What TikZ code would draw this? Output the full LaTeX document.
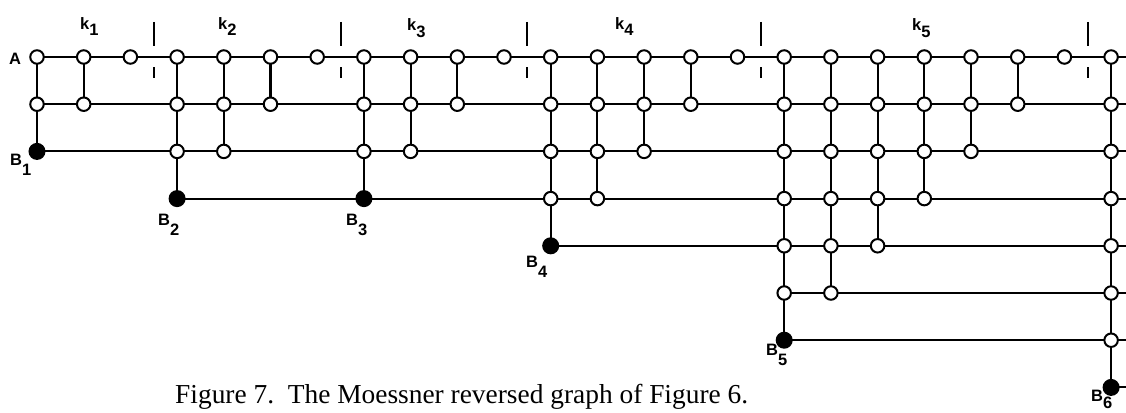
\documentclass[tikz,border=0pt]{standalone}
\usepackage{fontspec}
\setmainfont{Liberation Serif}
\newfontfamily\labfont{Liberation Sans}
\pgfdeclarelayer{bg}
\pgfsetlayers{bg,main}
\newcommand\lowered[2]{\raisebox{-#1pt}{#2}}
\tikzset{
  opennode/.style={circle, draw, fill=white, line width=2pt, minimum size=13.5pt, inner sep=0pt},
  bnode/.style={circle, draw, fill=black, line width=2pt, minimum size=15pt, inner sep=0pt},
  wire/.style={line width=2.1pt},
  lab/.style={font=\labfont\bfseries\fontsize{16.5}{16.5}\selectfont, inner sep=0pt, anchor=base west},
  captext/.style={font=\fontsize{27.4}{27.4}\selectfont, inner sep=0pt, anchor=base west},
}
\begin{document}
\begin{tikzpicture}[x=1pt,y=-1pt]
\useasboundingbox (0,0) rectangle (1126,412);
% nodes: column / last open row / has filled node below
\foreach \c/\m/\f in {0/1/1,1/1/0,2/0/0,3/2/1,4/2/0,5/1/0,6/0/0,7/2/1,8/2/0,9/1/0,10/0/0,
  11/3/1,12/3/0,13/2/0,14/1/0,15/0/0,16/5/1,17/5/0,18/4/0,19/3/0,20/2/0,21/1/0,22/0/0,23/6/1}{
  \pgfmathsetmacro\xx{37+46.7*\c}
  \foreach \r in {0,...,\m}{
    \pgfmathsetmacro\yy{57+47.2*\r}
    \node[opennode] (n\c-\r) at (\xx,\yy) {};
  }
  \ifnum\f=1
    \pgfmathtruncatemacro\b{\m+1}
    \pgfmathsetmacro\yy{57+47.2*\b}
    \node[bnode] (n\c-\b) at (\xx,\yy) {};
  \fi
}
% edge coordinates on the right
\foreach \r in {0,...,7}{
  \pgfmathsetmacro\yy{57+47.2*\r}
  \coordinate (e\r) at (1140,\yy);
}
\begin{pgfonlayer}{bg}
  % vertical connectors
  \foreach \c/\b in {0/2,1/1,3/3,4/2,5/1,7/3,8/2,9/1,11/4,12/3,13/2,14/1,16/6,17/5,18/4,19/3,20/2,21/1,23/7}{
    \draw[wire] (n\c-0.center) -- (n\c-\b.center);
  }
  % horizontal connectors
  \foreach \r/\s in {0/0,1/0,2/0,3/3,4/11,5/16,6/16,7/23}{
    \draw[wire] (n\s-\r.center) -- (e\r);
  }
\end{pgfonlayer}
% section ticks
\foreach \t in {2.5,6.5,10.5,15.5,22.5}{
  \draw[wire] ({37+46.7*\t},22) -- ({37+46.7*\t},46);
  \draw[wire] ({37+46.7*\t},67) -- ({37+46.7*\t},78);
}
% labels
\node[lab] (kA) at (9,64) {A};
\node[lab] (k1) at (80,30) {k\lowered{6}{1}};
\node[lab] (k2) at (218,30) {k\lowered{6}{2}};
\node[lab] (k3) at (407,31) {k\lowered{6}{3}};
\node[lab] (k4) at (615,30) {k\lowered{6}{4}};
\node[lab] (k5) at (912,31) {k\lowered{6}{5}};
\node[lab] (lb1) at (10,165) {B\lowered{10}{1}};
\node[lab] (lb2) at (158,225) {B\lowered{10}{2}};
\node[lab] (lb3) at (346,225) {B\lowered{10}{3}};
\node[lab] (lb4) at (526,267) {B\lowered{10}{4}};
\node[lab] (lb5) at (766,355) {B\lowered{10}{5}};
\node[lab] (lb6) at (1091,401) {B\lowered{7}{6}};
\node[captext] (caption) at (175,403) {Figure 7.\hspace{0.5em}The Moessner reversed graph of Figure 6.};
\end{tikzpicture}
\end{document}
